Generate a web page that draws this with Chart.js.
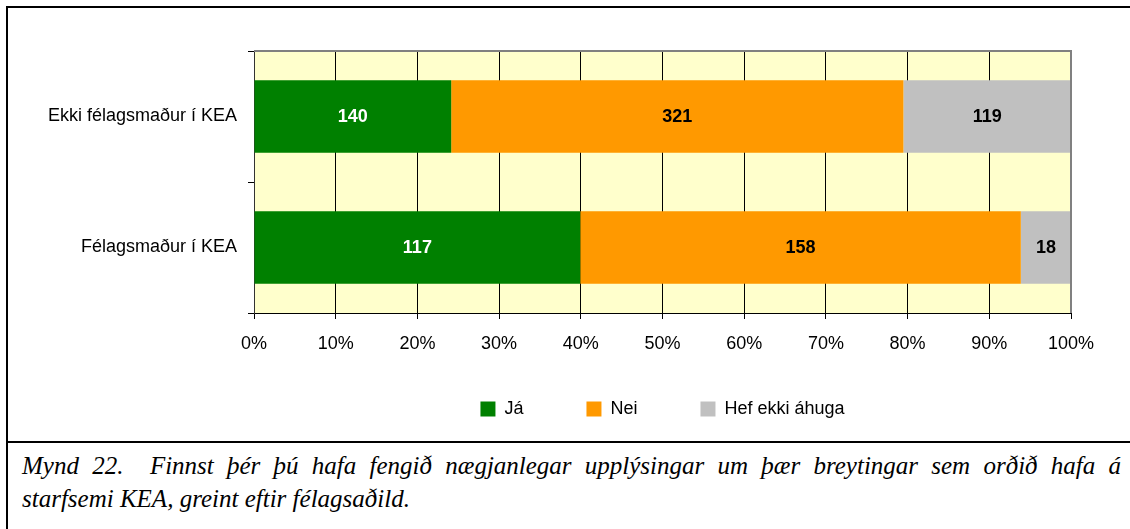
<!DOCTYPE html>
<html>
<head>
<meta charset="utf-8">
<script src="https://cdn.jsdelivr.net/npm/chart.js@4.4.1/dist/chart.umd.min.js"></script>
<style>
  body { margin: 0; background: #fff; overflow: hidden; }
  #wrap { position: relative; width: 1130px; height: 529px; }
  #frame { position: absolute; left: 6px; top: 6px; width: 1200px; height: 600px;
           border-left: 2px solid #000; border-top: 2px solid #000; }
  #sep { position: absolute; left: 6px; top: 441px; width: 1200px; height: 2px; background: #000; }
  #caption { position: absolute; left: 22px; top: 449px; width: 1099px;
             font-family: "Liberation Serif", "Times New Roman", serif; font-style: italic;
             font-size: 25px; line-height: 33px; color: #000; }
  #caption .l1 { text-align: justify; text-align-last: justify; white-space: nowrap; }
  #chartBox { position: absolute; left: 0; top: 0; width: 1130px; height: 529px; }
</style>
</head>
<body>
<div id="wrap">
  <div id="frame"></div>
  <div id="sep"></div>
  <div id="caption">
    <div class="l1">Mynd 22.&nbsp; Finnst þér þú hafa fengið nægjanlegar upplýsingar um þær breytingar sem orðið hafa á</div>
    <div>starfsemi KEA, greint eftir félagsaðild.</div>
  </div>
  <div id="chartBox"><canvas id="kea"></canvas></div>
</div>
<script>
const categories = ['Ekki félagsmaður í KEA', 'Félagsmaður í KEA'];
const seriesNames = ['Já', 'Nei', 'Hef ekki áhuga'];
const jaCounts = [140, 117];
const neiCounts = [321, 158];
const hefEkkiCounts = [119, 18];
const seriesColors = ['#008000', '#FF9900', '#C0C0C0'];
const labelColors = ['#FFFFFF', '#000000', '#000000'];

const allCounts = [jaCounts, neiCounts, hefEkkiCounts];
const totals = categories.map((c, i) => allCounts.reduce((s, arr) => s + arr[i], 0));
const toPercent = (arr) => arr.map((v, i) => v / totals[i] * 100);

const plotBackground = {
  id: 'plotBackground',
  beforeDraw(chart) {
    const { ctx, chartArea: a } = chart;
    ctx.save();
    ctx.fillStyle = '#FFFFCC';
    ctx.fillRect(a.left, a.top, a.right - a.left, a.bottom - a.top);
    ctx.restore();
  },
  afterDraw(chart) {
    const { ctx, chartArea: a } = chart;
    ctx.save();
    ctx.strokeStyle = '#808080';
    ctx.lineWidth = 2;
    ctx.beginPath();
    ctx.moveTo(a.left, a.top);
    ctx.lineTo(a.right, a.top);
    ctx.lineTo(a.right, a.bottom);
    ctx.stroke();
    ctx.restore();
  }
};

// legend sits a bit closer to the axis than its label padding would put it
const legendNudge = {
  id: 'legendNudge',
  afterLayout(chart) {
    const l = chart.legend;
    if (!l) return;
    l.top -= 21;
    l.bottom -= 21;
  }
};

const countLabels = {
  id: 'countLabels',
  afterDatasetsDraw(chart) {
    const ctx = chart.ctx;
    ctx.save();
    ctx.font = 'bold 18px "Liberation Sans", Arial, sans-serif';
    ctx.textAlign = 'center';
    ctx.textBaseline = 'middle';
    chart.data.datasets.forEach((ds, d) => {
      const meta = chart.getDatasetMeta(d);
      meta.data.forEach((bar, i) => {
        const p = bar.getCenterPoint();
        ctx.fillStyle = labelColors[d];
        ctx.fillText(String(allCounts[d][i]), p.x, p.y + 1);
      });
    });
    ctx.restore();
  }
};

document.addEventListener('DOMContentLoaded', function () {
  Chart.defaults.font.family = '"Liberation Sans", Arial, sans-serif';
  Chart.defaults.font.size = 18;
  Chart.defaults.color = '#000';

  const context = document.getElementById('kea').getContext('2d');
  new Chart(context, {
    type: 'bar',
    data: {
      labels: categories,
      datasets: seriesNames.map((name, d) => ({
        label: name,
        data: toPercent(allCounts[d]),
        backgroundColor: seriesColors[d],
        borderWidth: 0,
        barPercentage: 1,
        categoryPercentage: 0.555
      }))
    },
    options: {
      indexAxis: 'y',
      responsive: true,
      maintainAspectRatio: false,
      animation: false,
      layout: { padding: { left: 0, right: 59, top: 51, bottom: 80 } },
      scales: {
        x: {
          stacked: true,
          min: 0,
          max: 100,
          ticks: { stepSize: 10, padding: 14, callback: (v) => v + '%' },
          grid: { color: '#000', lineWidth: 1, tickLength: 6 },
          border: { color: '#000', width: 1 },
          afterFit: (s) => { s.height = 45; }
        },
        y: {
          stacked: true,
          ticks: { padding: 11 },
          grid: { drawOnChartArea: false, offset: true, color: '#000', tickLength: 6 },
          border: { color: '#333', width: 1 },
          afterFit: (s) => { s.width = 254; }
        }
      },
      plugins: {
        tooltip: { enabled: false },
        legend: {
          position: 'bottom',
          fullSize: false,
          align: 'center',
          labels: { boxWidth: 15, boxHeight: 15, padding: 63, font: { size: 18 }, color: '#000' }
        }
      }
    },
    plugins: [plotBackground, legendNudge, countLabels]
  });
});
</script>
</body>
</html>
